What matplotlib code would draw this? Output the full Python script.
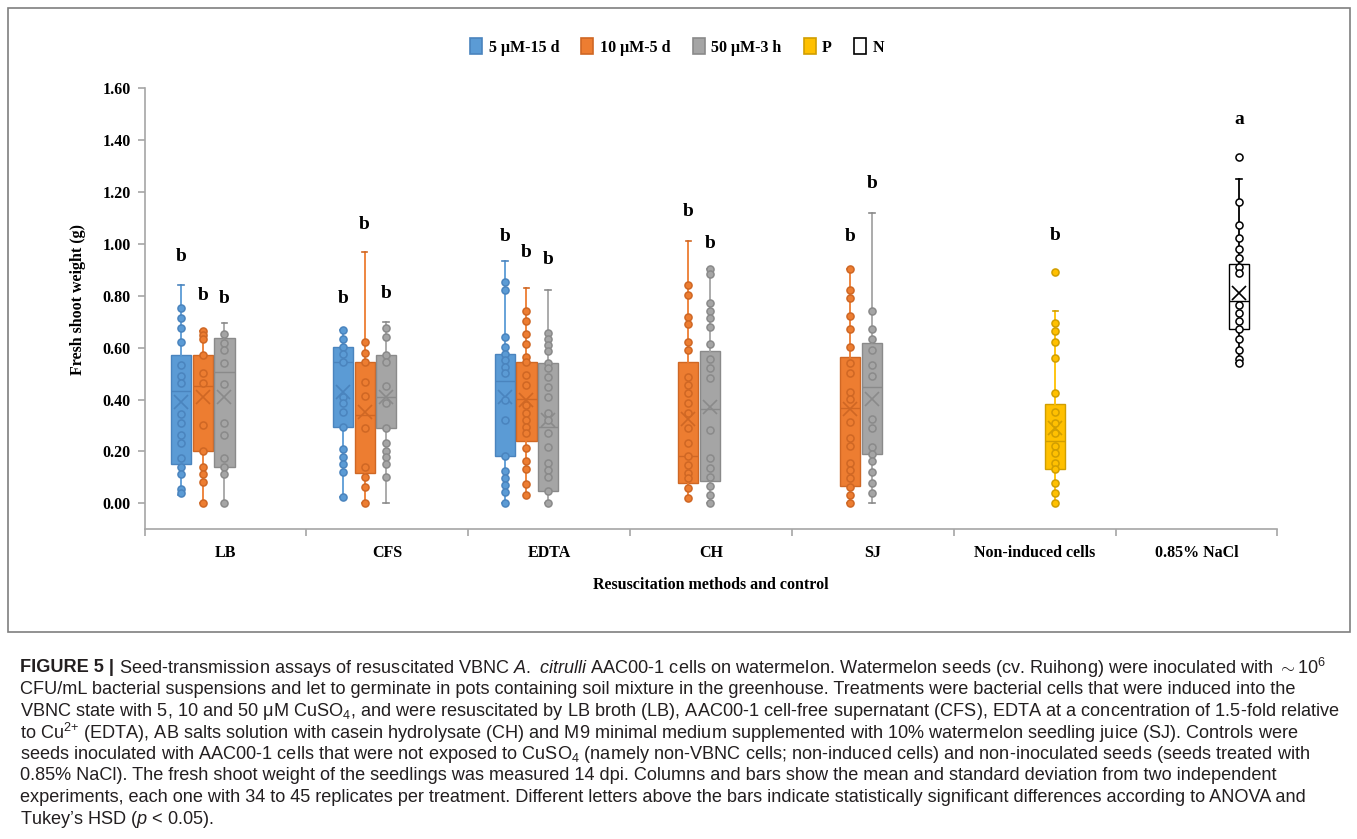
import matplotlib
matplotlib.use("Agg")
import matplotlib.pyplot as plt
from matplotlib.patches import Patch, Rectangle
from matplotlib.ticker import FormatStrFormatter, FixedLocator

# ---- data ----
categories = ["LB", "CFS", "EDTA", "CH", "SJ", "Non-induced cells", "0.85% NaCl"]
series = ["5 μM-15 d", "10 μM-5 d", "50 μM-3 h", "P", "N"]

# one entry per box: which category / which series
box_cat = [0, 0, 0, 1, 1, 1, 2, 2, 2, 3, 3, 4, 4, 5, 6]
box_ser = [0, 1, 2, 0, 1, 2, 0, 1, 2, 1, 2, 1, 2, 3, 4]

whislo = [0.032, 0.0, 0.0, 0.025, 0.0, 0.0, 0.0, 0.032, 0.0, 0.022, 0.0, 0.0, 0.0, 0.0, 0.540]
q1 = [0.151, 0.203, 0.141, 0.295, 0.118, 0.291, 0.182, 0.241, 0.049, 0.077, 0.087, 0.067, 0.190, 0.131, 0.673]
med = [0.434, 0.452, 0.505, 0.543, 0.340, 0.411, 0.471, 0.402, 0.293, 0.182, 0.362, 0.366, 0.447, 0.241, 0.781]
q3 = [0.571, 0.572, 0.636, 0.604, 0.543, 0.572, 0.576, 0.543, 0.540, 0.546, 0.588, 0.565, 0.619, 0.383, 0.922]
whishi = [0.842, 0.665, 0.694, 0.668, 0.970, 0.700, 0.934, 0.829, 0.822, 1.011, 0.902, 0.902, 1.120, 0.743, 1.250]
means = [0.392, 0.409, 0.411, 0.430, 0.353, 0.410, 0.411, 0.400, 0.320, 0.324, 0.372, 0.362, 0.402, 0.289, 0.812]

points = [
    [0.752, 0.713, 0.675, 0.623, 0.533, 0.491, 0.463, 0.344, 0.311, 0.263, 0.234, 0.173, 0.141, 0.112, 0.054, 0.039],
    [0.665, 0.649, 0.632, 0.572, 0.501, 0.463, 0.302, 0.203, 0.141, 0.112, 0.081, 0.0],
    [0.653, 0.617, 0.591, 0.542, 0.460, 0.311, 0.263, 0.173, 0.141, 0.112, 0.0],
    [0.668, 0.632, 0.604, 0.574, 0.543, 0.411, 0.385, 0.353, 0.295, 0.208, 0.180, 0.151, 0.122, 0.025],
    [0.623, 0.581, 0.543, 0.469, 0.415, 0.289, 0.141, 0.100, 0.062, 0.002],
    [0.675, 0.642, 0.572, 0.543, 0.453, 0.385, 0.291, 0.231, 0.203, 0.180, 0.151, 0.103],
    [0.854, 0.822, 0.642, 0.604, 0.576, 0.552, 0.527, 0.501, 0.398, 0.321, 0.182, 0.126, 0.099, 0.071, 0.042, 0.002],
    [0.741, 0.704, 0.653, 0.613, 0.565, 0.543, 0.495, 0.456, 0.379, 0.347, 0.321, 0.295, 0.270, 0.212, 0.163, 0.131, 0.074, 0.032],
    [0.655, 0.632, 0.610, 0.587, 0.540, 0.520, 0.488, 0.450, 0.411, 0.347, 0.321, 0.270, 0.218, 0.154, 0.128, 0.103, 0.049, 0.002],
    [0.842, 0.803, 0.719, 0.691, 0.621, 0.591, 0.486, 0.456, 0.424, 0.385, 0.347, 0.289, 0.231, 0.182, 0.148, 0.116, 0.096, 0.058, 0.022],
    [0.902, 0.884, 0.773, 0.741, 0.713, 0.681, 0.613, 0.555, 0.520, 0.482, 0.283, 0.173, 0.135, 0.103, 0.067, 0.032, 0.0],
    [0.902, 0.822, 0.793, 0.722, 0.673, 0.601, 0.542, 0.501, 0.430, 0.403, 0.312, 0.251, 0.222, 0.154, 0.128, 0.096, 0.062, 0.032, 0.0],
    [0.743, 0.673, 0.632, 0.591, 0.533, 0.491, 0.324, 0.291, 0.218, 0.190, 0.163, 0.122, 0.080, 0.041],
    [0.893, 0.694, 0.664, 0.623, 0.561, 0.424, 0.351, 0.308, 0.270, 0.221, 0.193, 0.154, 0.131, 0.080, 0.041, 0.0],
    [1.334, 1.163, 1.073, 1.024, 0.980, 0.944, 0.912, 0.887, 0.764, 0.732, 0.704, 0.673, 0.632, 0.591, 0.555, 0.540],
]

letters = ["b", "b", "b", "b", "b", "b", "b", "b", "b", "b", "b", "b", "b", "b", "a"]
letter_y = [0.953, 0.803, 0.788, 0.788, 1.073, 0.810, 1.028, 0.966, 0.941, 1.124, 1.002, 1.030, 1.234, 1.034, 1.480]

caption = [
    r"Seed-transmission assays of resuscitated VBNC $\mathit{A.}$ $\mathit{citrulli}$ AAC00-1 cells on watermelon. Watermelon seeds (cv. Ruihong) were inoculated with ${\sim}$10$^{6}$",
    "CFU/mL bacterial suspensions and let to germinate in pots containing soil mixture in the greenhouse. Treatments were bacterial cells that were induced into the",
    r"VBNC state with 5, 10 and 50 μM CuSO$_{4}$, and were resuscitated by LB broth (LB), AAC00-1 cell-free supernatant (CFS), EDTA at a concentration of 1.5-fold relative",
    r"to Cu$^{2{+}}$ (EDTA), AB salts solution with casein hydrolysate (CH) and M9 minimal medium supplemented with 10% watermelon seedling juice (SJ). Controls were",
    r"seeds inoculated with AAC00-1 cells that were not exposed to CuSO$_{4}$ (namely non-VBNC cells; non-induced cells) and non-inoculated seeds (seeds treated with",
    "0.85% NaCl). The fresh shoot weight of the seedlings was measured 14 dpi. Columns and bars show the mean and standard deviation from two independent",
    "experiments, each one with 34 to 45 replicates per treatment. Different letters above the bars indicate statistically significant differences according to ANOVA and",
    r"Tukey’s HSD ($\mathit{p}$ < 0.05).",
]

# ---- styling ----
fills = ["#5B9BD5", "#ED7D31", "#A5A5A5", "#FFC000", "white"]
edges = ["#4A84BE", "#CF6724", "#8A8A8A", "#D19E00", "black"]
serif = "Liberation Serif"
sans = "Liberation Sans"

plt.rcParams["mathtext.fontset"] = "custom"
plt.rcParams["mathtext.rm"] = sans
plt.rcParams["mathtext.it"] = sans + ":italic"

fig = plt.figure(figsize=(13.57, 8.39), dpi=100)

# background layer in pixel coordinates: frame and caption
bg = fig.add_axes([0, 0, 1, 1], zorder=-1)
bg.set_xlim(0, 1357)
bg.set_ylim(839, 0)
bg.axis("off")
bg.add_patch(Rectangle((8, 8), 1342, 624, fill=False, edgecolor="#7f7f7f", lw=1.2))

ax = fig.add_axes([0.1065, 0.3691, 0.8349, 0.5257])

slot = 0.134
width = 0.124
for i in range(len(box_cat)):
    s = box_ser[i]
    x = box_cat[i] + (s - 2) * slot - 0.006
    stat = dict(whislo=whislo[i], q1=q1[i], med=med[i], q3=q3[i], whishi=whishi[i],
                mean=means[i], fliers=[])
    ax.bxp([stat], positions=[x], widths=width, capwidths=0.035, patch_artist=True,
           showmeans=True, showfliers=False,
           boxprops=dict(facecolor=fills[s], edgecolor=edges[s], lw=1.0),
           medianprops=dict(color=edges[s], lw=1.0),
           whiskerprops=dict(color=fills[s] if s != 4 else "black", lw=1.3),
           capprops=dict(color=edges[s], lw=1.2),
           meanprops=dict(marker="x", markersize=10, markeredgecolor=edges[s],
                          markeredgewidth=1.2),
           manage_ticks=False, zorder=2)
    ax.scatter([x] * len(points[i]), points[i], s=26, facecolor=fills[s],
               edgecolor=edges[s], linewidths=1.1, zorder=3)
    ax.text(x, letter_y[i], letters[i], ha="center", va="center", fontsize=14,
            fontweight="bold", family=serif)

ax.set_xlim(-0.5, 6.5)
ax.set_ylim(-0.1, 1.6)
ax.yaxis.set_major_locator(FixedLocator([0, 0.2, 0.4, 0.6, 0.8, 1.0, 1.2, 1.4, 1.6]))
ax.yaxis.set_major_formatter(FormatStrFormatter("%.2f"))
ax.set_xticks(range(len(categories)))
ax.set_xticklabels(categories)
ax.xaxis.set_minor_locator(FixedLocator([k - 0.5 for k in range(len(categories) + 1)]))
for sp in ["top", "right"]:
    ax.spines[sp].set_visible(False)
for sp in ["left", "bottom"]:
    ax.spines[sp].set_color("#a6a6a6")
    ax.spines[sp].set_linewidth(1.2)
ax.tick_params(axis="x", which="major", length=0, pad=11)
ax.tick_params(axis="x", which="minor", length=5, color="#a6a6a6", width=1.2)
ax.tick_params(axis="y", length=5, color="#a6a6a6", width=1.2, pad=5)
for lab in ax.get_xticklabels() + ax.get_yticklabels():
    lab.set_family(serif)
    lab.set_fontweight("bold")
    lab.set_fontsize(11.5)

ax.set_ylabel("Fresh shoot weight (g)", family=serif, fontweight="bold", fontsize=11.5)
ax.yaxis.set_label_coords(-0.052, 0.52)
ax.set_xlabel("Resuscitation methods and control", family=serif, fontweight="bold",
              fontsize=11.5, labelpad=12)

handles = [Patch(facecolor=fills[k], edgecolor=edges[k], lw=1.2) for k in range(len(series))]
fig.legend(handles, series, loc="center", bbox_to_anchor=(0.499, 0.944), ncol=5,
           frameon=False, prop=dict(family=serif, weight="bold", size=11.5),
           handlelength=0.75, handleheight=1.1, handletextpad=0.4, columnspacing=1.4)

# caption
cap_x = 20
cap_y0 = 668
cap_dy = 21.6
cap_texts = []
for k, line in enumerate(caption):
    t = bg.text(cap_x, cap_y0 + k * cap_dy, line, family=sans, fontsize=12,
                va="center", ha="left", color="#231f20")
    cap_texts.append(t)

fig.canvas.draw()
r = fig.canvas.get_renderer()
w = cap_texts[2].get_window_extent(r).width
size = 12 * (1338 - cap_x) / w
for t in cap_texts:
    t.set_fontsize(size)

head = bg.text(cap_x, cap_y0, "FIGURE 5 |", family=sans, fontweight="bold",
               fontsize=size, va="center", ha="left", color="#231f20")
fig.canvas.draw()
hw = head.get_window_extent(r).width
cap_texts[0].set_x(cap_x + hw + 5)
# keep first line within the right margin
w0 = cap_texts[0].get_window_extent(r).width
if cap_x + hw + 5 + w0 > 1325:
    f = (1325 - cap_x) / (hw + 5 + w0)
    cap_texts[0].set_fontsize(size * f)
    head.set_fontsize(size * f)
    fig.canvas.draw()
    hw = head.get_window_extent(r).width
    cap_texts[0].set_x(cap_x + hw + 5)

fig.savefig("out.png", dpi=100)
